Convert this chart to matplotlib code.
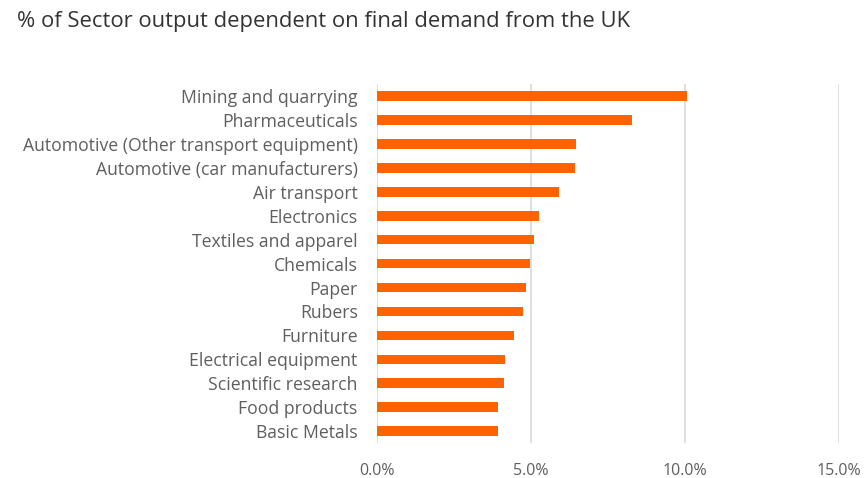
import matplotlib.pyplot as plt
from matplotlib.ticker import FuncFormatter

sectors = ['Mining and quarrying', 'Pharmaceuticals',
           'Automotive (Other transport equipment)',
           'Automotive (car manufacturers)', 'Air transport', 'Electronics',
           'Textiles and apparel', 'Chemicals', 'Paper', 'Rubers', 'Furniture',
           'Electrical equipment', 'Scientific research', 'Food products',
           'Basic Metals']
share = [10.05, 8.27, 6.45, 6.41, 5.90, 5.25, 5.10, 4.95, 4.84, 4.75,
         4.44, 4.14, 4.13, 3.93, 3.93]

plt.rcParams['font.family'] = ['Open Sans', 'DejaVu Sans']

fig = plt.figure(figsize=(8.67, 4.78), dpi=100)
ax = fig.add_axes([0.435, 0.073, 0.533, 0.751])

pos = list(range(len(sectors)))
ax.barh(pos, share, height=0.4, color='#FF6200', zorder=3)
ax.set_yticks(pos)
ax.set_yticklabels(sectors)
ax.set_ylim(len(sectors) - 0.5, -0.5)

ax.set_xlim(0, 15)
ax.set_xticks([0, 5, 10, 15])
ax.xaxis.set_major_formatter(FuncFormatter(lambda v, p: '{0:.1f}%'.format(v)))
ax.grid(axis='x', color='#d9d9d9', linewidth=1.2, zorder=0)
ax.tick_params(axis='y', length=0, pad=14, labelsize=12.7, labelcolor='#5f5f5f')
ax.tick_params(axis='x', length=0, pad=14, labelsize=11.5, labelcolor='#5f5f5f')
for s in ax.spines.values():
    s.set_visible(False)

fig.text(0.02, 0.955, '% of Sector output dependent on final demand from the UK',
         fontsize=15.8, color='#333333', ha='left', va='center')

fig.savefig('out.png', dpi=100)
